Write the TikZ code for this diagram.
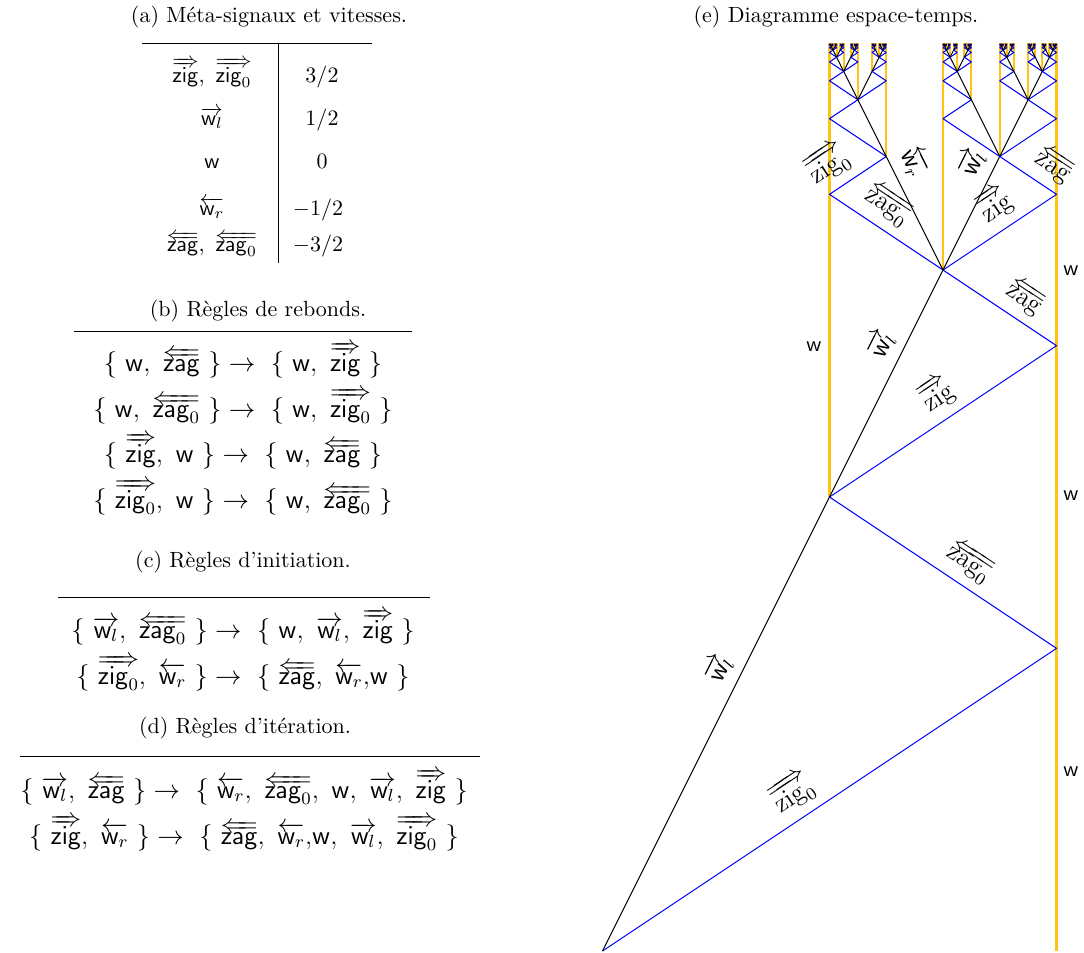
\documentclass[tikz,border=0pt]{standalone}
\usepackage{amsmath}
\makeatletter
\def\Rightarrowfill@{\arrowfill@\Relbar\Relbar\Rightarrow}
\def\Leftarrowfill@{\arrowfill@\Leftarrow\Relbar\Relbar}
\newcommand\ovR{\mathpalette{\overarrow@\Rightarrowfill@}}
\newcommand\ovL{\mathpalette{\overarrow@\Leftarrowfill@}}
\makeatother
\newcommand\Zig{\ovR{\mathsf{zig}}}
\newcommand\Zigz{\ovR{\mathsf{zig}_0}}
\newcommand\Zag{\ovL{\mathsf{zag}}}
\newcommand\Zagz{\ovL{\mathsf{zag}_0}}
\newcommand\WL{\overrightarrow{\mathsf{w}_l}}
\newcommand\WR{\overleftarrow{\mathsf{w}_r}}
\newcommand\Ww{\mathsf{w}}
\newcommand\dZig{\ovR{\mathrm{zig}}}
\newcommand\dZigz{\ovR{\mathrm{zig}_0}}
\newcommand\dZag{\ovL{\mathrm{zag}}}
\newcommand\dZagz{\ovL{\mathrm{zag}_0}}
\definecolor{wcol}{RGB}{255,195,20}
\newif\ifSigW
\tikzset{
  wsig/.style={draw=wcol, line width=0.95pt},
  bsig/.style={draw=blue, line width=0.45pt, line join=round},
  ksig/.style={draw=black, line width=0.45pt},
  rule/.style={draw=black, line width=0.4pt},
  lbl/.style={sloped, above=2.5pt, inner sep=1.5pt, font=\fontsize{12}{14}\selectfont},
  txt/.style={anchor=base, inner sep=0pt},
  rtxt/.style={anchor=base, inner sep=0pt, font=\fontsize{11.5}{14}\selectfont}
}
\def\ytop{43}
% #1 type: 1 = R (w_l, zig), 2 = R0 (w_l, zig0), 3 = L (w_r, zag), 4 = L0 (w_r, zag0)
\newcommand\SigRun[4]{%
  \begingroup
  \pgfmathsetmacro\qa{#2}%
  \pgfmathsetmacro\qb{#3}%
  \pgfmathsetmacro\qy{#4}%
  \pgfmathsetmacro\qd{\qb-\qa}%
  \ifdim\qd pt>0.6pt
    \pgfmathsetmacro\qc{\qa+\qd/2}%
    \pgfmathsetmacro\qm{\qy-2*\qd/3}%
    \pgfmathsetmacro\qe{\qy-\qd}%
    \ifSigW
      \draw[wsig] (\qc,\qe) -- (\qc,\ytop);
    \else
      \ifnum#1<3\relax
        \draw[bsig] (\qa,\qy) -- (\qb,\qm) -- (\qc,\qe);
        \draw[ksig] (\qa,\qy) -- (\qc,\qe);
      \else
        \draw[bsig] (\qb,\qy) -- (\qa,\qm) -- (\qc,\qe);
        \draw[ksig] (\qb,\qy) -- (\qc,\qe);
      \fi
    \fi
    \ifcase#1\or
      \edef\qnext{\noexpand\SigRun{4}{\qa}{\qc}{\qe}\noexpand\SigRun{1}{\qc}{\qb}{\qe}}%
    \or
      \edef\qnext{\noexpand\SigRun{1}{\qc}{\qb}{\qe}}%
    \or
      \edef\qnext{\noexpand\SigRun{3}{\qa}{\qc}{\qe}\noexpand\SigRun{2}{\qc}{\qb}{\qe}}%
    \or
      \edef\qnext{\noexpand\SigRun{3}{\qa}{\qc}{\qe}}%
    \fi
    \qnext
  \fi
  \endgroup}
\begin{document}
\begin{tikzpicture}[x=0.4545pt, y=-0.4545pt]
\useasboundingbox (0,0) rectangle (1084,952);
% ---------- (a) ----------
\node[txt] (ta) at (269,22) {(a) M\'eta-signaux et vitesses.};
\draw[rule] (142,43) -- (372,43);
\draw[rule] (278,43) -- (278,263);
\node[txt] (a1l) at (212,82) {$\Zig,\ \Zigz$};
\node[txt] (a1r) at (322,82) {$3/2$};
\node[txt] (a2l) at (212,125) {$\WL$};
\node[txt] (a2r) at (322,125) {$1/2$};
\node[txt] (a3l) at (212,168) {$\Ww$};
\node[txt] (a3r) at (322,168) {$0$};
\node[txt] (a4l) at (212,215) {$\WR$};
\node[txt] (a4r) at (318,215) {$-1/2$};
\node[txt] (a5l) at (212,251) {$\Zag,\ \Zagz$};
\node[txt] (a5r) at (318,251) {$-3/2$};
% ---------- (b) ----------
\node[txt] (tb) at (258,316) {(b) R\`egles de rebonds.};
\draw[rule] (74,331) -- (412,331);
\node[rtxt] (b1) at (243,371) {$\{\ \Ww,\ \Zag\ \}\to\ \{\ \Ww,\ \Zig\ \}$};
\node[rtxt] (b2) at (243,417) {$\{\ \Ww,\ \Zagz\ \}\to\ \{\ \Ww,\ \Zigz\ \}$};
\node[rtxt] (b3) at (243,462) {$\{\ \Zig,\ \Ww\ \}\to\ \{\ \Ww,\ \Zag\ \}$};
\node[rtxt] (b4) at (243,508) {$\{\ \Zigz,\ \Ww\ \}\to\ \{\ \Ww,\ \Zagz\ \}$};
% ---------- (c) ----------
\node[txt] (tc) at (243,567) {(c) R\`egles d'initiation.};
\draw[rule] (58,597) -- (430,597);
\node[rtxt] (c1) at (243,638) {$\{\ \WL,\ \Zagz\ \}\to\ \{\ \Ww,\ \WL,\ \Zig\ \}$};
\node[rtxt] (c2) at (243,684) {$\{\ \Zigz,\ \WR\ \}\to\ \{\ \Zag,\ \WR{,}\Ww\ \}$};
% ---------- (d) ----------
\node[txt] (td) at (245,733) {(d) R\`egles d'it\'eration.};
\draw[rule] (20,756) -- (480,756);
\node[rtxt] (d1) at (244,798) {$\{\ \WL,\ \Zag\ \}\to\ \{\ \WR,\ \Zagz,\ \Ww,\ \WL,\ \Zig\ \}$};
\node[rtxt] (d2) at (244,844) {$\{\ \Zig,\ \WR\ \}\to\ \{\ \Zag,\ \WR{,}\Ww,\ \WL,\ \Zigz\ \}$};
% ---------- (e) ----------
\node[txt] (te) at (836,22) {(e) Diagramme espace-temps.};
\coordinate (O) at (602.5,951);
\coordinate (B1) at (1056.5,648.33);
\coordinate (I1) at (829.5,497);
\coordinate (B2) at (1056.5,345.67);
\coordinate (I2) at (943,270);
\coordinate (A1) at (829.5,194.33);
\coordinate (A2) at (886.25,156.5);
\coordinate (B3) at (1056.5,194.33);
\coordinate (A3) at (999.75,156.5);
\coordinate (Rb) at (1056.5,951);
\coordinate (Rt) at (1056.5,\ytop);
\draw[wsig] (Rb) -- (Rt);
\SigWtrue
\SigRun{2}{602.5}{1056.5}{951}
\SigWfalse
\SigRun{2}{602.5}{1056.5}{951}
% labels on signals
\path (O) -- (I1) node[lbl, pos=0.6] (lwl1) {$\WL$};
\path (O) -- (B1) node[lbl, pos=0.45] (lzig0) {$\dZigz$};
\path (B1) -- (I1) node[lbl, pos=0.44] (lzag0) {$\dZagz$};
\path (I1) -- (I2) node[lbl, pos=0.63] (lwl2) {$\WL$};
\path (I1) -- (B2) node[lbl, pos=0.535] (lzig) {$\dZig$};
\path (B2) -- (I2) node[lbl, pos=0.39] (lzag) {$\dZag$};
\path (A1) -- (A2) node[lbl, pos=0.22] (lzig0b) {$\dZigz$};
\path (I2) -- (A1) node[lbl, pos=0.6] (lzag0b) {$\dZagz$};
\path (I2) -- (A2) node[lbl, pos=0.86] (lwr) {$\WR$};
\path (I2) -- (A3) node[lbl, pos=0.86] (lwl3) {$\WL$};
\path (I2) -- (B3) node[lbl, pos=0.58] (lzigb) {$\dZig$};
\path (B3) -- (A3) node[lbl, pos=0.27] (lzagb) {$\dZag$};
% w labels
\node (lw1) at (814,347) {$\Ww$};
\node (lw2) at (1071,271) {$\Ww$};
\node (lw3) at (1071,496) {$\Ww$};
\node (lw4) at (1071,772) {$\Ww$};
\end{tikzpicture}
\end{document}
